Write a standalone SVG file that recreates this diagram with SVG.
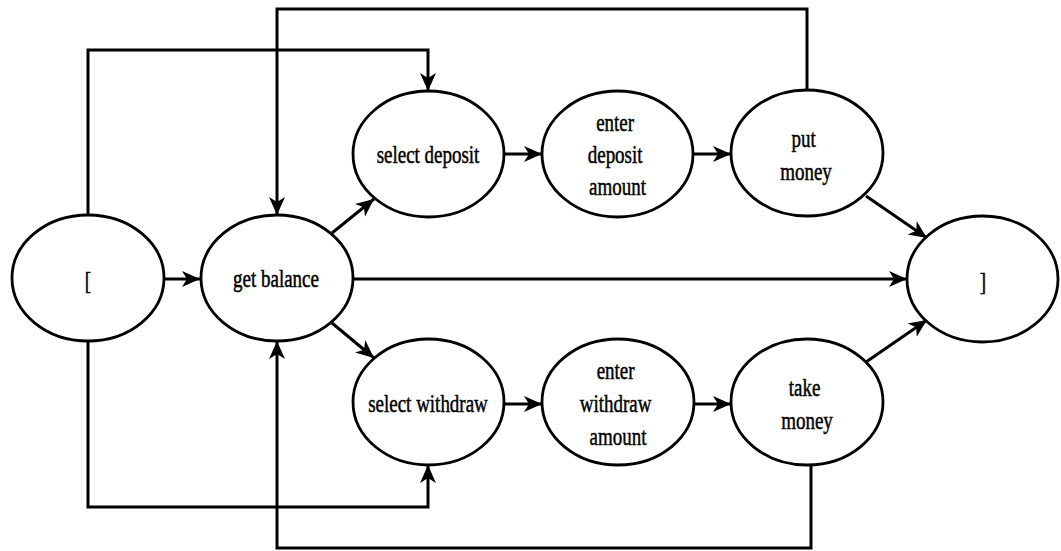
<svg xmlns="http://www.w3.org/2000/svg" width="1061" height="551" viewBox="0 0 1061 551">
  <style>
    .node ellipse { fill: #ffffff; stroke: #000000; stroke-width: 2.8; }
    .node text { font-family: "Liberation Serif", "Times New Roman", serif; font-size: 26px; fill: #000000; text-anchor: middle; stroke: #000000; stroke-width: 0.5; }
    .edge { fill: none; stroke: #000000; stroke-width: 3; }
  </style>
  <defs>
    <marker id="arrow" markerUnits="userSpaceOnUse" markerWidth="20" markerHeight="20" viewBox="0 0 20 20" refX="18" refY="10" orient="auto">
      <path d="M0,2 L18,10 L0,18 L5,10 Z" fill="#000000"/>
    </marker>
  </defs>
  <rect width="1061" height="551" fill="#ffffff"/>

  <g id="connectors">
    <path class="edge" d="M164,279 L200,279" marker-end="url(#arrow)"/>
    <path class="edge" d="M332,233 L374,199" marker-end="url(#arrow)"/>
    <path class="edge" d="M332,323 L374,358" marker-end="url(#arrow)"/>
    <path class="edge" d="M353,279 L907,279" marker-end="url(#arrow)"/>
    <path class="edge" d="M504,154 L542,154" marker-end="url(#arrow)"/>
    <path class="edge" d="M693,154 L731,154" marker-end="url(#arrow)"/>
    <path class="edge" d="M504,404 L542,404" marker-end="url(#arrow)"/>
    <path class="edge" d="M694,404 L731,404" marker-end="url(#arrow)"/>
    <path class="edge" d="M866,196 L927,238" marker-end="url(#arrow)"/>
    <path class="edge" d="M866,362 L927,320" marker-end="url(#arrow)"/>
    <path class="edge" d="M88,215 L88,50 L428,50 L428,91" marker-end="url(#arrow)"/>
    <path class="edge" d="M807,90 L807,9 L277,9 L277,215" marker-end="url(#arrow)"/>
    <path class="edge" d="M88,341 L88,507 L428,507 L428,465" marker-end="url(#arrow)"/>
    <path class="edge" d="M811,465 L811,548 L277,548 L277,341" marker-end="url(#arrow)"/>
  </g>

  <g id="node-start" class="node">
    <ellipse cx="88" cy="278" rx="76" ry="63"/>
    <text transform="translate(88,0) scale(0.73,1)" x="0" y="289">[</text>
  </g>
  <g id="node-get-balance" class="node">
    <ellipse cx="277" cy="278" rx="76" ry="63"/>
    <text transform="translate(276,0) scale(0.73,1)" x="0" y="287">get balance</text>
  </g>
  <g id="node-select-deposit" class="node">
    <ellipse cx="428.5" cy="154" rx="75.5" ry="63"/>
    <text transform="translate(428,0) scale(0.73,1)" x="0" y="163">select deposit</text>
  </g>
  <g id="node-enter-deposit" class="node">
    <ellipse cx="617.5" cy="154" rx="75.5" ry="63"/>
    <text transform="translate(617.5,0) scale(0.73,1)" x="0" y="131">
      <tspan x="0" y="131">enter</tspan>
      <tspan x="0" y="163">deposit</tspan>
      <tspan x="0" y="195">amount</tspan>
    </text>
  </g>
  <g id="node-put-money" class="node">
    <ellipse cx="807" cy="153" rx="76" ry="63"/>
    <text transform="translate(806,0) scale(0.73,1)" x="0" y="147">
      <tspan x="0" y="147">put</tspan>
      <tspan x="0" y="180">money</tspan>
    </text>
  </g>
  <g id="node-end" class="node">
    <ellipse cx="982.5" cy="279" rx="75.5" ry="63"/>
    <text transform="translate(983,0) scale(0.73,1)" x="0" y="290">]</text>
  </g>
  <g id="node-select-withdraw" class="node">
    <ellipse cx="428.5" cy="402" rx="75.5" ry="63"/>
    <text transform="translate(428,0) scale(0.73,1)" x="0" y="412">select withdraw</text>
  </g>
  <g id="node-enter-withdraw" class="node">
    <ellipse cx="618" cy="402" rx="76" ry="63"/>
    <text transform="translate(618,0) scale(0.73,1)" x="0" y="379">
      <tspan x="0" y="379">enter</tspan>
      <tspan x="0" y="412">withdraw</tspan>
      <tspan x="0" y="445">amount</tspan>
    </text>
  </g>
  <g id="node-take-money" class="node">
    <ellipse cx="807" cy="402" rx="76" ry="63"/>
    <text transform="translate(807,0) scale(0.73,1)" x="0" y="396">
      <tspan x="0" y="396">take</tspan>
      <tspan x="0" y="429">money</tspan>
    </text>
  </g>
</svg>
